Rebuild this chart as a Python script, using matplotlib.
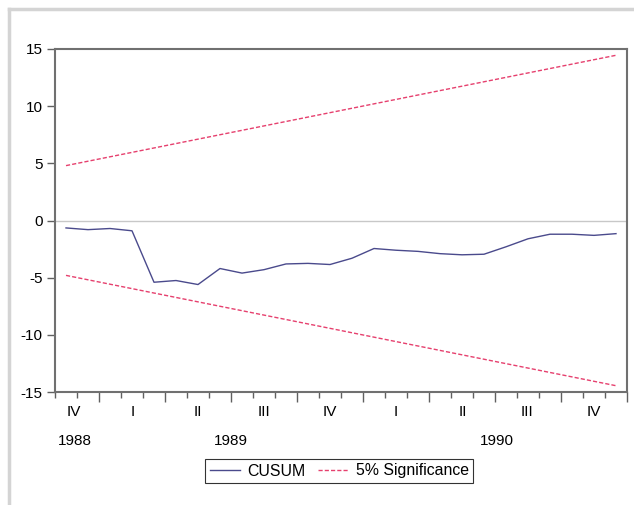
import numpy as np
import matplotlib
matplotlib.use("Agg")
import matplotlib.pyplot as plt
from matplotlib.lines import Line2D

# =========================
# 数据 (monthly, 1988M11 - 1990M12)
# =========================
cusum = [-0.65, -0.8, -0.7, -0.9, -5.4, -5.25, -5.6, -4.2, -4.6, -4.3,
         -3.8, -3.75, -3.85, -3.3, -2.45, -2.6, -2.7, -2.9, -3.0, -2.95,
         -2.3, -1.6, -1.2, -1.2, -1.3, -1.15]
bound_start = 4.8
bound_end = 14.45

quarter_labels = ["IV", "I", "II", "III", "IV", "I", "II", "III", "IV"]
quarter_pos = [0.35, 3.05, 6, 9, 12, 15, 18.05, 20.95, 24]
year_labels = ["1988", "1989", "1990"]
year_pos = [0.4, 7.5, 19.6]

n = len(cusum)
x = np.arange(n)
x_ends = [0, n - 1]
upper = [bound_start, bound_end]
lower = [-bound_start, -bound_end]

# =========================
# 绘图
# =========================
plt.rcParams["font.family"] = ["Liberation Sans", "DejaVu Sans"]
blue = "#4a4a8c"
red = "#e6406e"

fig = plt.figure(figsize=(6.34, 5.05), dpi=100)
ax = fig.add_axes([55 / 634, 1 - 392 / 505, 572 / 634, 343 / 505])

ax.axhline(0, color="#c8c8c8", linewidth=1.0, zorder=1)
ax.plot(x, cusum, color=blue, linewidth=1.0, zorder=3)
ax.plot(x_ends, upper, color=red, linewidth=1.0, dashes=(3, 1.5), zorder=2)
ax.plot(x_ends, lower, color=red, linewidth=1.0, dashes=(3, 1.5), zorder=2)

ax.set_xlim(-0.5, n - 0.5)
ax.set_ylim(-15, 15)
ax.set_yticks([-15, -10, -5, 0, 5, 10, 15])
ax.set_yticklabels(["-15", "-10", "-5", "0", "5", "10", "15"])

ax.set_xticks(np.arange(-0.5, n, 3) + 2)
ax.set_xticks(np.arange(-0.5, n, 1), minor=True)
ax.set_xticklabels([])
ax.tick_params(axis="x", which="major", length=7, width=1.0, color="#606060")
ax.tick_params(axis="x", which="minor", length=4, width=1.0, color="#606060")
ax.tick_params(axis="y", length=6, width=1.0, color="#606060", labelsize=11, pad=3)

for side in ["left", "right", "top", "bottom"]:
    ax.spines[side].set_color("#707070")
    ax.spines[side].set_linewidth(1.5)

for lab, pos in zip(quarter_labels, quarter_pos):
    ax.annotate(lab, xy=(pos, 0), xycoords=("data", "axes fraction"),
                xytext=(0, -14.5), textcoords="offset points",
                ha="center", va="center", fontsize=11)
for lab, pos in zip(year_labels, year_pos):
    ax.annotate(lab, xy=(pos, 0), xycoords=("data", "axes fraction"),
                xytext=(0, -35), textcoords="offset points",
                ha="center", va="center", fontsize=11)

# 图例
handles = [Line2D([], [], color=blue, linewidth=1.0),
           Line2D([], [], color=red, linewidth=1.0, dashes=(3, 1.5))]
leg = fig.legend(handles, ["CUSUM", "5% Significance"], loc="center",
                 bbox_to_anchor=(339 / 634, 1 - 471 / 505), ncol=2,
                 fontsize=11.4, frameon=True, fancybox=False,
                 handlelength=1.9, handletextpad=0.5, columnspacing=0.75,
                 borderpad=0.3)
leg.get_frame().set_edgecolor("black")
leg.get_frame().set_linewidth(0.8)

# 外框 (only top and left edges visible)
fig.add_artist(Line2D([9 / 634, 9 / 634], [0, 1 - 9 / 505],
                      transform=fig.transFigure, color="#d4d4d4", linewidth=2.5))
fig.add_artist(Line2D([9 / 634, 1], [1 - 9 / 505, 1 - 9 / 505],
                      transform=fig.transFigure, color="#d4d4d4", linewidth=2.5))

fig.savefig("out.png", dpi=100)
